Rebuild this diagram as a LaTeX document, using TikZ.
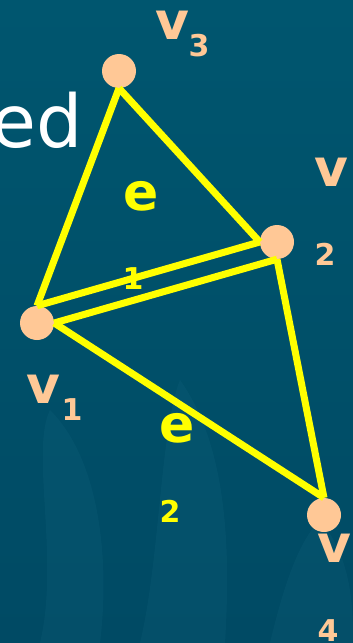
\documentclass[tikz,border=0pt]{standalone}
\usepackage{fontspec}
\setmainfont{DejaVu Sans}
\definecolor{slidebg}{HTML}{00566F}
\definecolor{slidebgdark}{HTML}{004A64}
\definecolor{flame}{HTML}{1A6A85}
\definecolor{peach}{HTML}{FFC896}
\definecolor{edgeyellow}{HTML}{FFFF00}
\begin{document}
\begin{tikzpicture}[
    x=1pt, y=-1pt,
    vertex/.style={
        circle,
        fill=peach,
        inner sep=0pt,
        minimum size=34pt
    },
    vname/.style={
        font=\bfseries\fontsize{52}{52}\selectfont,
        text=peach,
        inner sep=0pt
    },
    vindex/.style={
        font=\bfseries\fontsize{30}{30}\selectfont,
        text=peach,
        inner sep=0pt
    },
    ename/.style={
        vname,
        text=edgeyellow
    },
    eindex/.style={
        vindex,
        text=edgeyellow
    },
    edge/.style={
        line width=7pt,
        draw=edgeyellow
    }
]
    % Hintergrund
    \fill[top color=slidebg, bottom color=slidebgdark] (0,0) rectangle (353,643);
    \useasboundingbox (0,0) rectangle (353,643);
    \begin{scope}[fill=flame, opacity=0.18]
        \fill (40,643) .. controls (60,560) and (30,450) .. (50,410)
              .. controls (100,460) and (110,560) .. (100,643) -- cycle;
        \fill (140,643) .. controls (160,560) and (160,430) .. (180,380)
              .. controls (230,450) and (230,560) .. (225,643) -- cycle;
        \fill (270,643) .. controls (285,580) and (300,540) .. (320,520)
              .. controls (353,560) and (353,610) .. (353,643) -- cycle;
    \end{scope}

    % Titelrest
    \node[font=\fontsize{73}{73}\selectfont, text=white, inner sep=0pt,
          anchor=base east] (title) at (83,147) {ed};

    % Knoten
    \node[vertex] (v3) at (119,71) {};
    \node[vertex] (v2) at (277,242) {};
    \node[vertex] (v1) at (37,323) {};
    \node[vertex] (v4) at (324,515) {};

    % Kanten
    \draw[edge] (v3.south) -- (v1.north);
    \draw[edge] (v3.south) -- (v2.west);
    \draw[edge] (v1.north) -- (v2.west);
    \draw[edge] (v1.east) -- (v2.south);
    \draw[edge] (v1.east) -- (v4.north);
    \draw[edge] (v2.south) -- (v4.north);

    % Beschriftungen der Knoten
    \foreach \name/\vx/\vy/\ix/\iy in {3/172/25/199/46,2/331/172/325/254,
                                       1/43/389/72/410,4/334/548/328/631} {
        \node[vname] (v\name name) at (\vx,\vy) {v};
        \node[vindex] (v\name index) at (\ix,\iy) {\name};
    }

    % Beschriftungen der Kanten
    \foreach \name/\ex/\ey/\ix/\iy in {1/141/196/133/279,2/177/428/170/511} {
        \node[ename] (e\name name) at (\ex,\ey) {e};
        \node[eindex] (e\name index) at (\ix,\iy) {\name};
    }
\end{tikzpicture}
\end{document}
